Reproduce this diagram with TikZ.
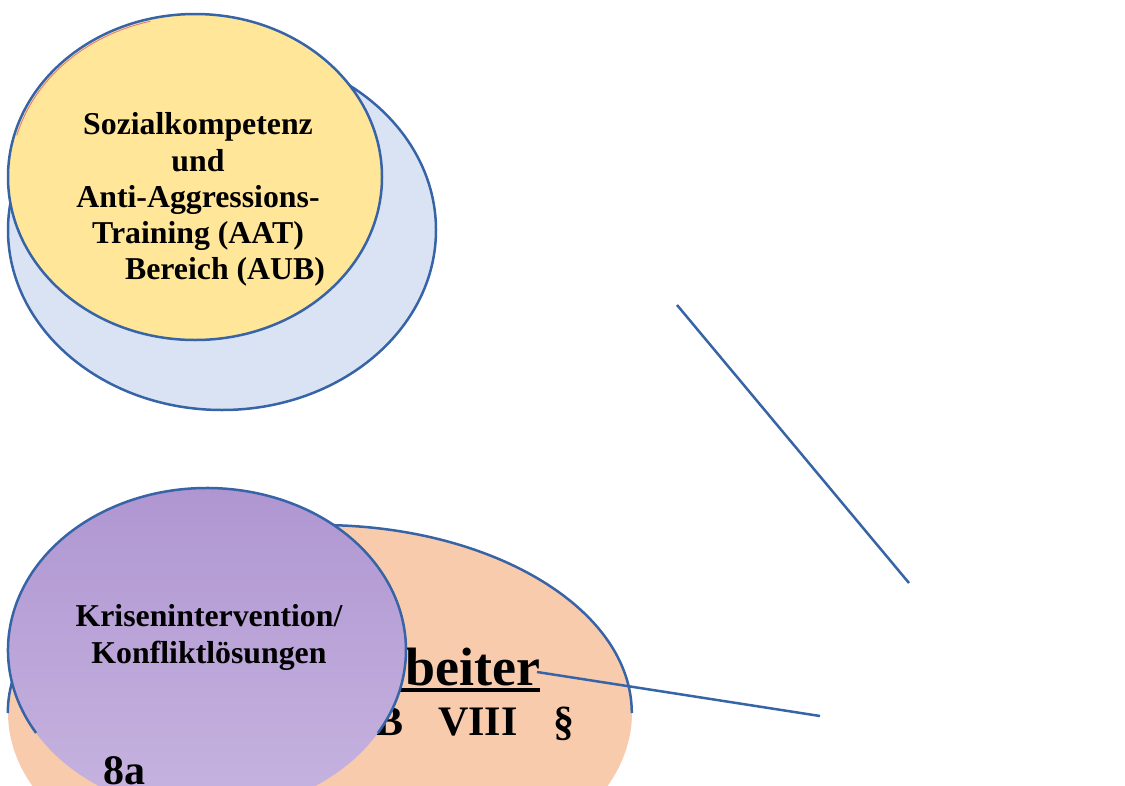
\documentclass[tikz,border=0pt]{standalone}
\usepackage{fontspec}
\setmainfont{Liberation Serif}
\usetikzlibrary{shapes.geometric,positioning}

\definecolor{rand}{RGB}{54,100,166}
\definecolor{hellblau}{RGB}{218,227,243}
\definecolor{gelb}{RGB}{255,230,153}
\definecolor{pfirsich}{RGB}{248,203,173}
\definecolor{lilaoben}{RGB}{175,150,209}
\definecolor{lilaunten}{RGB}{199,180,224}
\definecolor{rosa}{RGB}{230,120,130}

\tikzstyle{kreis} = [ellipse, inner sep=0pt, draw=rand, line width=2.5pt]
\tikzstyle{flaeche} = [ellipse, inner sep=0pt]
\tikzstyle{schrift} = [inner sep=0pt, align=center, text=black]
\tikzstyle{linie} = [draw=rand, line width=2.5pt]

\begin{document}
\begin{tikzpicture}[x=1pt,y=1pt]
\useasboundingbox (0,0) rectangle (1125,-785);
\clip (0,0) rectangle (1125,-785);
% oben
\node (blau) at (222,-230) [kreis, fill=hellblau, minimum width=428pt, minimum height=360pt] {};
\node (aat) at (195,-177) [kreis, fill=gelb, minimum width=374pt, minimum height=326pt] {};
\draw[rosa, line width=0.9pt] ([shift={(104:184.5 and 160.5)}]aat.center) arc (104:165:184.5 and 160.5);
\node (aattext) at (198,-112.5) [schrift, anchor=north, font=\bfseries\fontsize{31.8}{36.25}\selectfont] {Sozialkompetenz\\und\\Anti-Aggressions-\\Training (AAT)\\\hspace*{54pt}Bereich (AUB)};
% unten
\node (sgb) at (320,-713) [flaeche, fill=pfirsich, minimum width=624pt, minimum height=376pt] {};
\draw[linie] (sgb.west) arc (180:0:312 and 188);
\node (beiter) at (405,-685) [schrift, anchor=base west, font=\bfseries\fontsize{54}{60}\selectfont] {beiter};
\draw[line width=3.5pt] ([xshift=-12pt,yshift=-5pt]beiter.base west) -- ([yshift=-5pt]beiter.base east);
\node (sgbtext) at (375,-735) [schrift, anchor=base west, font=\bfseries\fontsize{42}{48}\selectfont] {B\hspace{35pt}VIII\hspace{36pt}§};
\node (kris) at (207,-650) [flaeche, top color=lilaoben, bottom color=lilaunten, minimum width=398pt, minimum height=324pt] {};
\draw[linie] ([shift={(210.8:199 and 162)}]kris.center) arc (210.8:-30.8:199 and 162);
\node (kristext) at (209,-604) [schrift, anchor=north, font=\bfseries\fontsize{31.8}{37}\selectfont] {Krisenintervention/\\Konfliktlösungen};
\node (acht) at (103,-784) [schrift, anchor=base west, font=\bfseries\fontsize{42}{48}\selectfont] {8a};
% Linien
\coordinate (l1a) at (677,-305);
\coordinate (l1b) at (909,-583);
\coordinate (l2a) at (537,-672);
\coordinate (l2b) at (820,-716);
\draw[linie] (l1a) -- (l1b);
\draw[linie] (l2a) -- (l2b);
\end{tikzpicture}
\end{document}
